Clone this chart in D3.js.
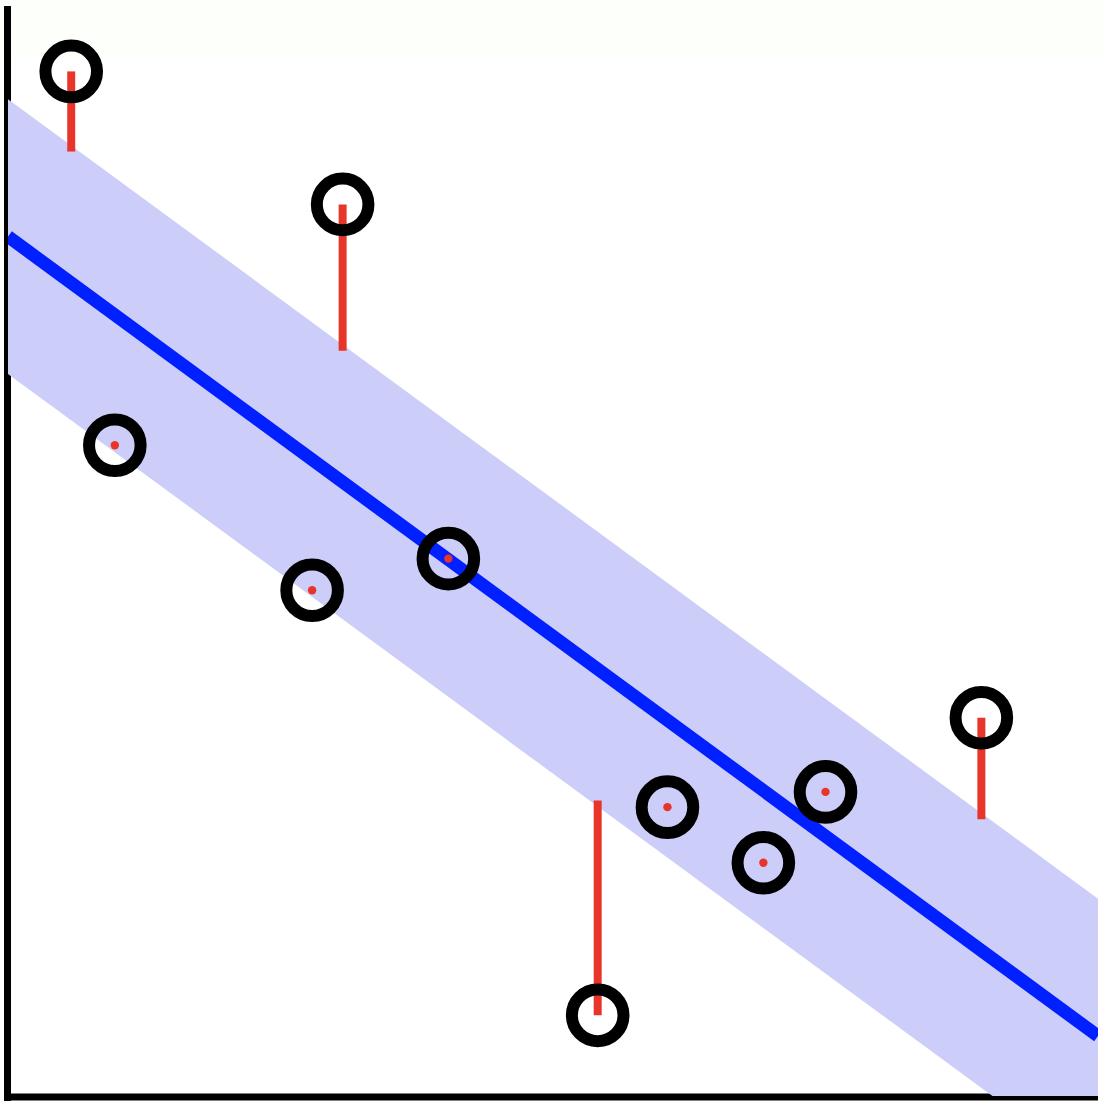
<!DOCTYPE html>
<html>
<head>
<meta charset="utf-8">
<script src="https://cdn.jsdelivr.net/npm/d3@7"></script>
<style>
  html, body { margin: 0; padding: 0; background: #fff; }
  svg { display: block; }
</style>
</head>
<body>
<div id="chart"></div>
<script>
// observed points (data units)
const pointX = [0.58, 3.07, 0.98, 2.79, 4.04, 5.41, 6.05, 6.93, 7.50, 8.93];
const pointY = [9.40, 8.18, 5.97, 4.64, 4.93, 0.74, 2.65, 2.14, 2.79, 3.47];

// fitted line end points and band half-width
const fitX = [0, 10];
const fitY = [7.885, 0.55];
const bandHalf = 1.26;

const xDomain = [0, 10];
const yDomain = [0, 10];

const W = 1104, H = 1106;
const margin = {left: 8, right: 1098, bottom: 1096, top: 6};

const svg = d3.select("#chart").append("svg")
  .attr("width", W)
  .attr("height", H);

// faint tint at the very top
svg.append("rect")
  .attr("x", 0).attr("y", 0)
  .attr("width", W).attr("height", 58)
  .attr("fill", "#fcfffa");

const x = d3.scaleLinear().domain(xDomain).range([margin.left, margin.right]);
const y = d3.scaleLinear().domain(yDomain).range([margin.bottom, margin.bottom - 1090]);

// line value at a given x
const fitScale = d3.scaleLinear().domain(fitX).range(fitY);

// axes (plain lines, no ticks)
svg.append("line")
  .attr("x1", 7.5).attr("x2", 7.5)
  .attr("y1", margin.top).attr("y2", 1101)
  .attr("stroke", "#000").attr("stroke-width", 7);
svg.append("line")
  .attr("x1", 4).attr("x2", margin.right)
  .attr("y1", 1097).attr("y2", 1097)
  .attr("stroke", "#000").attr("stroke-width", 7);

svg.append("clipPath").attr("id", "plot")
  .append("rect")
  .attr("x", margin.left).attr("y", 0)
  .attr("width", margin.right - margin.left).attr("height", margin.bottom);

const plot = svg.append("g").attr("clip-path", "url(#plot)");

// band around the fitted line
const bandArea = d3.area()
  .x(d => x(d))
  .y0(d => y(fitScale(d) - bandHalf))
  .y1(d => y(fitScale(d) + bandHalf));

plot.append("path")
  .datum(fitX)
  .attr("d", bandArea)
  .attr("fill", "#cdcdf9");

// fitted line
plot.append("path")
  .datum(fitX)
  .attr("d", d3.line().x(d => x(d)).y(d => y(fitScale(d))))
  .attr("stroke", "#0020ff")
  .attr("stroke-width", 13)
  .attr("fill", "none");

const points = pointX.map((px, i) => {
  const py = pointY[i];
  const c = fitScale(px);
  let edge = null;
  if (py > c + bandHalf) edge = c + bandHalf;
  else if (py < c - bandHalf) edge = c - bandHalf;
  return { x: px, y: py, edge: edge };
});

// residual sticks beyond the band (reach slightly into it)
const overshoot = 6;
svg.selectAll(".resid")
  .data(points.filter(d => d.edge !== null))
  .enter()
  .append("line")
    .attr("class", "resid")
    .attr("x1", d => x(d.x))
    .attr("x2", d => x(d.x))
    .attr("y1", d => y(d.y))
    .attr("y2", d => y(d.edge) + (d.y > d.edge ? overshoot : -overshoot))
    .attr("stroke", "#e8352a")
    .attr("stroke-width", 8);

// rings
svg.selectAll(".pt")
  .data(points)
  .enter()
  .append("circle")
    .attr("class", "pt")
    .attr("cx", d => x(d.x))
    .attr("cy", d => y(d.y))
    .attr("r", 25.8)
    .attr("fill", "none")
    .attr("stroke", "#000")
    .attr("stroke-width", 12);

// dots for points inside the band
svg.selectAll(".dot")
  .data(points.filter(d => d.edge === null))
  .enter()
  .append("circle")
    .attr("class", "dot")
    .attr("cx", d => x(d.x))
    .attr("cy", d => y(d.y))
    .attr("r", 4.2)
    .attr("fill", "#e8352a");
</script>
</body>
</html>
